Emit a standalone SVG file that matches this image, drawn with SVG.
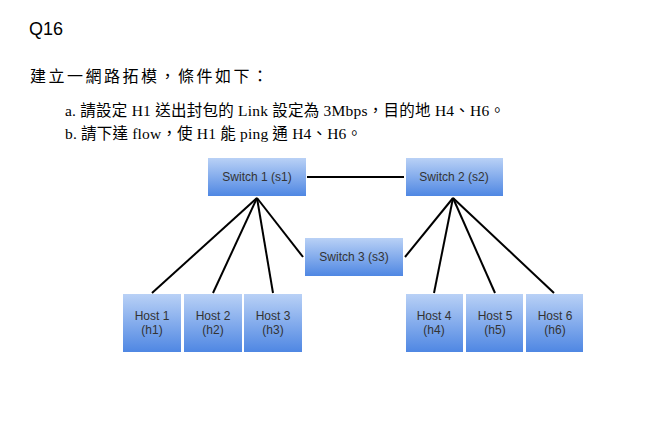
<svg xmlns="http://www.w3.org/2000/svg" width="669" height="434" viewBox="0 0 669 434">
<defs>
<linearGradient id="g" x1="0" y1="0" x2="0" y2="1">
<stop offset="0" stop-color="#b9d1f6"/>
<stop offset="1" stop-color="#4f87e3"/>
</linearGradient>
<style>
.box{fill:url(#g);stroke:none}
.lbl{font-family:"Liberation Sans",Arial,sans-serif;font-size:12px;fill:#333;text-anchor:middle}
.ln{stroke:#000;stroke-width:2;fill:none}
.cj{font-family:"Liberation Serif","Noto Sans CJK TC",serif;fill:#000}
</style>
</defs>
<rect width="669" height="434" fill="#fff"/>
<text x="29" y="35" font-family="Liberation Sans,Arial,sans-serif" font-size="18" fill="#000">Q16</text>
<text class="cj" x="30" y="82" font-size="16" textLength="238" lengthAdjust="spacing">建立一網路拓模，條件如下：</text>
<text class="cj" x="65" y="116" font-size="15.5" textLength="440" lengthAdjust="spacing">a. 請設定 H1 送出封包的 Link 設定為 3Mbps，目的地 H4、H6。</text>
<text class="cj" x="65" y="139" font-size="15.5" textLength="297" lengthAdjust="spacing">b. 請下達 flow，使 H1 能 ping 通 H4、H6。</text>
<g id="connectors">
<line class="ln" x1="307" y1="177" x2="404" y2="177"/>
<line class="ln" x1="257" y1="198" x2="152" y2="293"/>
<line class="ln" x1="257" y1="198" x2="213" y2="293"/>
<line class="ln" x1="257" y1="198" x2="273" y2="293"/>
<line class="ln" x1="257" y1="198" x2="303" y2="257"/>
<line class="ln" x1="453" y1="198" x2="405" y2="257"/>
<line class="ln" x1="453" y1="198" x2="434" y2="293"/>
<line class="ln" x1="453" y1="198" x2="495" y2="293"/>
<line class="ln" x1="453" y1="198" x2="554" y2="293"/>
</g>
<g id="s1"><rect class="box" x="208" y="158" width="98" height="38"/><text class="lbl" x="257" y="181">Switch 1 (s1)</text></g>
<g id="s2"><rect class="box" x="406" y="158" width="97" height="38"/><text class="lbl" x="454" y="181">Switch 2 (s2)</text></g>
<g id="s3"><rect class="box" x="305" y="238" width="98" height="38"/><text class="lbl" x="354" y="261">Switch 3 (s3)</text></g>
<g id="h1"><rect class="box" x="123" y="294" width="58" height="58"/><text class="lbl" x="152" y="320">Host 1</text><text class="lbl" x="152" y="334">(h1)</text></g>
<g id="h2"><rect class="box" x="184" y="294" width="58" height="58"/><text class="lbl" x="213" y="320">Host 2</text><text class="lbl" x="213" y="334">(h2)</text></g>
<g id="h3"><rect class="box" x="244" y="294" width="58" height="58"/><text class="lbl" x="273" y="320">Host 3</text><text class="lbl" x="273" y="334">(h3)</text></g>
<g id="h4"><rect class="box" x="406" y="294" width="57" height="58"/><text class="lbl" x="434" y="320">Host 4</text><text class="lbl" x="434" y="334">(h4)</text></g>
<g id="h5"><rect class="box" x="466" y="294" width="57" height="58"/><text class="lbl" x="495" y="320">Host 5</text><text class="lbl" x="495" y="334">(h5)</text></g>
<g id="h6"><rect class="box" x="526" y="294" width="57" height="58"/><text class="lbl" x="555" y="320">Host 6</text><text class="lbl" x="555" y="334">(h6)</text></g>
</svg>
